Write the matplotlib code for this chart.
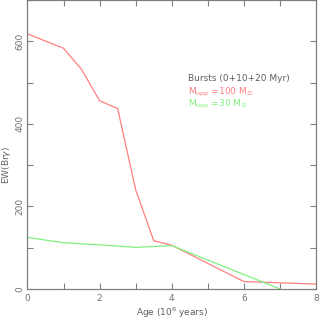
import numpy as np
import matplotlib
matplotlib.use('Agg')
import matplotlib.pyplot as plt
from matplotlib.ticker import MultipleLocator

# data
age_100 = [0, 1, 1.5, 2, 2.5, 3, 3.5, 4, 6, 8]
ew_100 = [618, 583, 532, 456, 437, 240, 117, 106, 18, 12]
age_30 = [0, 1, 2, 3, 4, 7]
ew_30 = [125, 112, 107, 101, 105, 0]

red = '#ff8080'
green = '#80f080'
grey = '#808080'

fig = plt.figure(figsize=(3.19, 3.21), dpi=100)
ax = fig.add_axes([0.086, 0.0997, 0.905, 0.9003])

ax.plot(age_100, ew_100, color=red, lw=0.9)
ax.plot(age_30, ew_30, color=green, lw=0.9)

ax.set_xlim(0, 8)
ax.set_ylim(0, 700)
ax.xaxis.set_major_locator(MultipleLocator(2))
ax.xaxis.set_minor_locator(MultipleLocator(1))
ax.yaxis.set_major_locator(MultipleLocator(200))
ax.yaxis.set_minor_locator(MultipleLocator(100))
ax.tick_params(which='both', direction='in', top=True, right=True,
               colors=grey, labelcolor='#707070', labelsize=6.5, length=4, width=0.8)
ax.tick_params(axis='y', pad=2)
for lbl in ax.get_yticklabels():
    lbl.set_rotation(90)
    lbl.set_va('center')
for s in ax.spines.values():
    s.set_color(grey)
    s.set_linewidth(0.9)

ax.set_xlabel('Age (10$^6$ years)', fontsize=6.5, color='#606060')
ax.set_ylabel(r'EW(Br$\gamma$)', fontsize=6.5, color='#606060')
ax.yaxis.set_label_coords(-0.05, 0.43)
ax.xaxis.set_label_coords(0.5, -0.058)

ax.text(0.556, 0.727, 'Bursts (0+10+20 Myr)', transform=ax.transAxes,
        fontsize=6.5, color='#606060', va='center')
ax.text(0.556, 0.681, r'M$_{\rm upp}$ =100 M$_{\odot}$', transform=ax.transAxes,
        fontsize=6.5, color=red, va='center')
ax.text(0.556, 0.638, r'M$_{\rm upp}$ =30 M$_{\odot}$', transform=ax.transAxes,
        fontsize=6.5, color=green, va='center')

fig.savefig('out.png', dpi=100)
